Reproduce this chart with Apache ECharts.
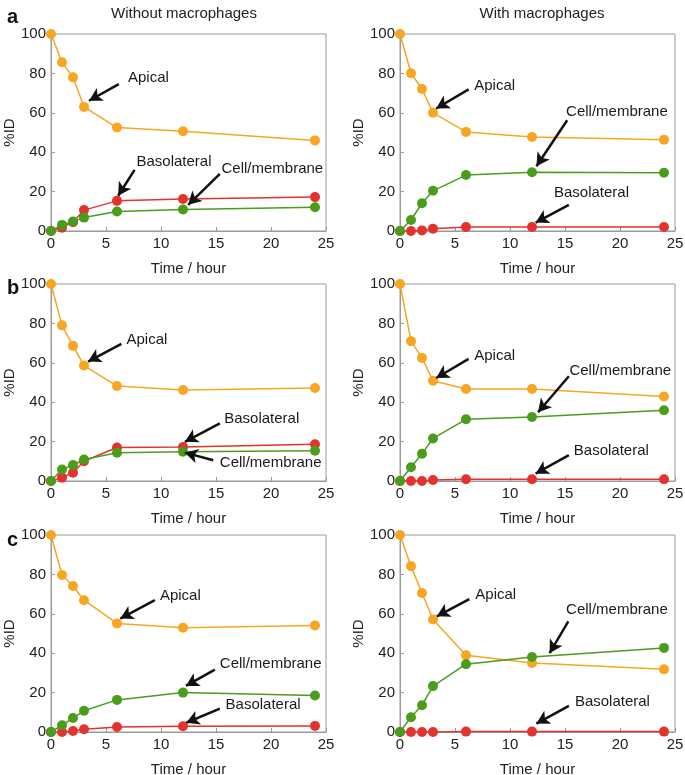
<!DOCTYPE html>
<html>
<head>
<meta charset="utf-8">
<script src="https://cdn.jsdelivr.net/npm/echarts@6/dist/echarts.min.js"></script>
<style>
html,body{margin:0;padding:0;background:#fff;}
#c{width:685px;height:775px;}
</style>
</head>
<body>
<div id="c"></div>
<script>
// ---- data ----
var time = [0, 1, 2, 3, 6, 12, 24];
var xTicks = [0, 5, 10, 15, 20, 25];
var yTicks = [0, 20, 40, 60, 80, 100];
var colTitles = ['Without macrophages', 'With macrophages'];
var rowLetters = ['a', 'b', 'c'];

// row a
var aWithoutApical = [100, 85.7, 78.0, 63.0, 52.5, 50.6, 46.0];
var aWithoutBaso   = [0, 1.7, 4.5, 10.6, 15.3, 16.2, 17.2];
var aWithoutCell   = [0, 3.1, 4.8, 6.8, 9.9, 10.9, 12.1];
var aWithApical    = [100, 80.1, 72.1, 60.0, 50.3, 47.7, 46.3];
var aWithBaso      = [0, 0, 0.3, 1.2, 2.0, 2.0, 2.0];
var aWithCell      = [0, 5.6, 14.1, 20.4, 28.4, 29.8, 29.6];
// row b
var bWithoutApical = [100, 79.0, 68.6, 58.6, 48.2, 46.2, 47.2];
var bWithoutBaso   = [0, 1.7, 4.2, 10.0, 17.0, 17.3, 18.7];
var bWithoutCell   = [0, 5.8, 8.1, 10.9, 14.3, 14.9, 15.4];
var bWithApical    = [100, 71.0, 62.5, 50.9, 46.7, 46.7, 42.9];
var bWithBaso      = [0, 0, 0, 0.5, 0.9, 0.9, 0.9];
var bWithCell      = [0, 7.0, 13.8, 21.6, 31.3, 32.5, 35.9];
// row c
var cWithoutApical = [100, 79.7, 74.1, 66.9, 55.1, 52.9, 54.1];
var cWithoutBaso   = [0, 0, 0.5, 1.4, 2.5, 2.9, 3.1];
var cWithoutCell   = [0, 3.4, 7.1, 10.8, 16.3, 20.0, 18.5];
var cWithApical    = [100, 84.2, 70.6, 57.1, 38.9, 35.0, 31.8];
var cWithBaso      = [0, 0, 0, 0, 0.2, 0.2, 0.2];
var cWithCell      = [0, 7.5, 13.6, 23.3, 34.4, 38.1, 42.7];

// annotations: [text, textX, textY, tailX, tailY, headX, headY] in data units
var aWithoutNotes = [
  ['Apical', 7.0, 77.5, 6.16, 74.6, 3.46, 66.1],
  ['Basolateral', 7.77, 34.9, 7.6, 31.0, 6.1, 17.9],
  ['Cell/membrane', 15.5, 31.5, 15.35, 29.0, 12.47, 13.3]
];
var aWithNotes = [
  ['Apical', 6.75, 73.8, 6.24, 71.9, 3.29, 62.2],
  ['Cell/membrane', 15.1, 60.5, 15.2, 56.2, 12.4, 32.9],
  ['Basolateral', 14.0, 19.6, 15.35, 13.3, 12.33, 4.3]
];
var bWithoutNotes = [
  ['Apical', 6.86, 71.6, 6.4, 69.6, 3.37, 60.6],
  ['Basolateral', 15.75, 31.7, 15.35, 29.2, 12.17, 19.9],
  ['Cell/membrane', 15.35, 9.3, 14.75, 10.5, 12.17, 14.4]
];
var bWithNotes = [
  ['Apical', 6.75, 63.4, 6.24, 62.0, 3.29, 52.3],
  ['Cell/membrane', 15.4, 55.7, 15.35, 53.2, 12.55, 34.9],
  ['Basolateral', 15.8, 15.3, 15.35, 13.1, 12.33, 3.7]
];
var cWithoutNotes = [
  ['Apical', 9.9, 69.0, 9.44, 66.9, 6.3, 57.6],
  ['Cell/membrane', 15.35, 34.4, 14.9, 31.7, 12.26, 23.4],
  ['Basolateral', 15.87, 13.9, 15.35, 11.9, 12.3, 4.7]
];
var cWithNotes = [
  ['Apical', 6.85, 69.7, 6.3, 67.5, 3.35, 58.7],
  ['Cell/membrane', 15.1, 62.1, 15.3, 56.1, 13.6, 40.0],
  ['Basolateral', 15.9, 15.3, 15.35, 13.3, 12.4, 4.3]
];

// ---- build ----
var FONT = '"Liberation Sans", Arial, Helvetica, sans-serif';
var ORANGE = '#F6A623', GREEN = '#4A9D1C', RED = '#E2332E';
var panels = [
  [aWithoutApical, aWithoutBaso, aWithoutCell, aWithoutNotes],
  [aWithApical, aWithBaso, aWithCell, aWithNotes],
  [bWithoutApical, bWithoutBaso, bWithoutCell, bWithoutNotes],
  [bWithApical, bWithBaso, bWithCell, bWithNotes],
  [cWithoutApical, cWithoutBaso, cWithoutCell, cWithoutNotes],
  [cWithApical, cWithBaso, cWithCell, cWithNotes]
];
var gridLefts = [51, 400];
var gridTops = [34, 284, 535];
var grids = [], xAxes = [], yAxes = [], series = [];

function pairs(vals) { return time.map(function (t, i) { return [t, vals[i]]; }); }

panels.forEach(function (p, k) {
  var row = Math.floor(k / 2), col = k % 2;
  grids.push({left: gridLefts[col], top: gridTops[row], width: 275, height: 197,
    outerBoundsMode: 'none', containLabel: false,
    show: true, borderColor: '#9a9a9a', borderWidth: 1, backgroundColor: 'transparent'});
  xAxes.push({gridIndex: k, type: 'value', min: xTicks[0], max: xTicks[xTicks.length - 1], interval: 5,
    name: 'Time / hour', nameLocation: 'middle', nameGap: 30,
    nameTextStyle: {fontFamily: FONT, fontSize: 15, color: '#222'},
    axisLine: {lineStyle: {color: '#9a9a9a'}},
    axisTick: {inside: true, length: 4, lineStyle: {color: '#9a9a9a'}},
    axisLabel: {fontFamily: FONT, fontSize: 15, color: '#222', margin: 5},
    splitLine: {show: false}});
  yAxes.push({gridIndex: k, type: 'value', min: yTicks[0], max: yTicks[yTicks.length - 1], interval: 20,
    name: '%ID', nameLocation: 'middle', nameGap: 34,
    nameTextStyle: {fontFamily: FONT, fontSize: 15, color: '#222'},
    axisLine: {lineStyle: {color: '#9a9a9a'}},
    axisTick: {inside: true, length: 4, lineStyle: {color: '#9a9a9a'}},
    axisLabel: {fontFamily: FONT, fontSize: 15, color: '#222', margin: 5},
    splitLine: {show: false}});
  var specs = [[p[0], ORANGE, 'Apical'], [p[1], RED, 'Basolateral'], [p[2], GREEN, 'Cell/membrane']];
  specs.forEach(function (s) {
    series.push({type: 'line', name: s[2], xAxisIndex: k, yAxisIndex: k, data: pairs(s[0]),
      symbol: 'circle', symbolSize: 10, showAllSymbol: true,
      lineStyle: {color: s[1], width: 1.5}, itemStyle: {color: s[1]}, z: 3});
  });
  var notes = p[3];
  // arrows
  series.push({type: 'line', xAxisIndex: k, yAxisIndex: k, data: [], silent: true,
    markLine: {silent: true, symbol: ['none', 'arrow'], symbolSize: [11, 13], animation: false,
      label: {show: false},
      lineStyle: {color: '#111', width: 2.5, type: 'solid', opacity: 1},
      emphasis: {disabled: true},
      data: notes.map(function (n) { return [{coord: [n[3], n[4]]}, {coord: [n[5], n[6]]}]; })}, z: 5});
  // annotation text
  series.push({type: 'scatter', xAxisIndex: k, yAxisIndex: k, silent: true, symbolSize: 0,
    itemStyle: {color: '#1a1a1a', opacity: 1},
    data: notes.map(function (n) { return {value: [n[1], n[2]], name: n[0]}; }),
    label: {show: true, position: 'right', distance: 0, formatter: '{b}',
      fontFamily: FONT, fontSize: 15, color: '#1a1a1a', opacity: 1, align: 'left', verticalAlign: 'middle'}, z: 6});
});

var titles = [
  {text: colTitles[0], left: 179, top: 1, textAlign: 'center',
   textStyle: {fontFamily: FONT, fontSize: 15, fontWeight: 'normal', color: '#222'}},
  {text: colTitles[1], left: 537, top: 1, textAlign: 'center',
   textStyle: {fontFamily: FONT, fontSize: 15, fontWeight: 'normal', color: '#222'}}
];
var letterTops = [2, 273, 525];
rowLetters.forEach(function (l, i) {
  titles.push({text: l, left: 2, top: letterTops[i],
    textStyle: {fontFamily: FONT, fontSize: 20, fontWeight: 'bold', color: '#111'}});
});

var chart = echarts.init(document.getElementById('c'), null, {renderer: 'canvas'});
chart.setOption({
  animation: false,
  backgroundColor: '#fff',
  title: titles,
  grid: grids, xAxis: xAxes, yAxis: yAxes, series: series
});
</script>
</body>
</html>
